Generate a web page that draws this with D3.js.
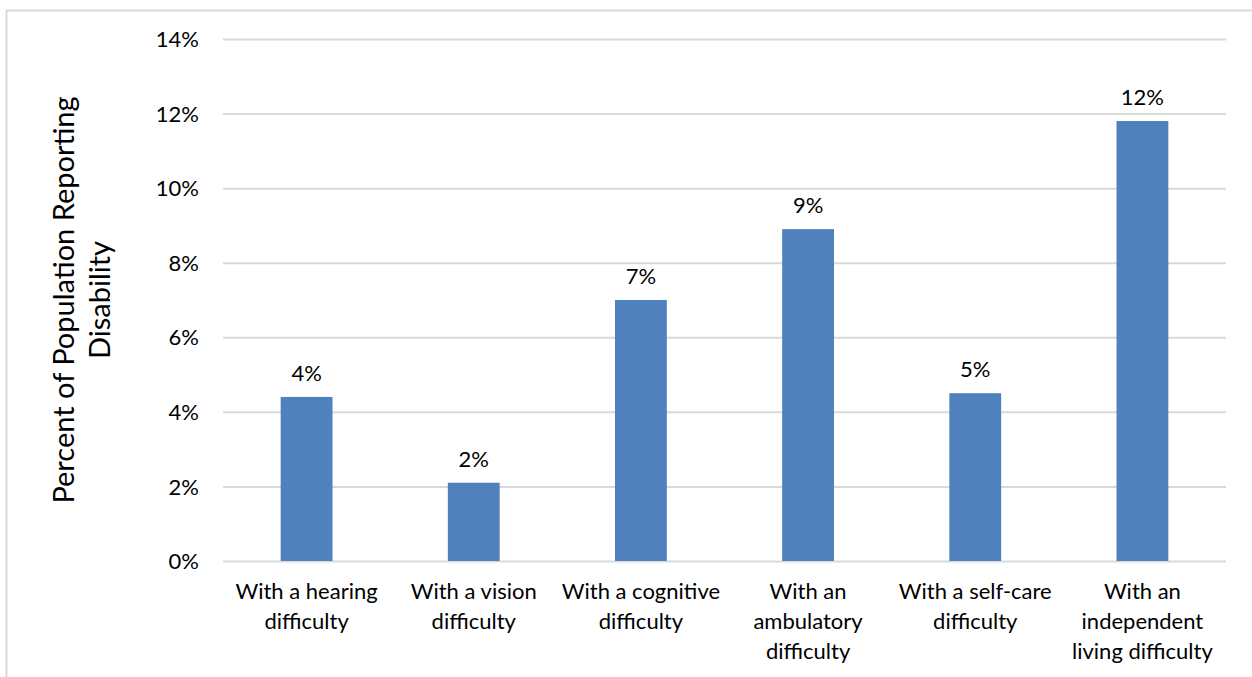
<!DOCTYPE html>
<html><head><meta charset="utf-8">
<script src="https://cdn.jsdelivr.net/npm/d3@7"></script>
<style>html,body{margin:0;padding:0;background:#fff;}svg{display:block;}</style>
</head><body>
<svg id="chart" width="1252" height="677"></svg>
<script>
const categories = [
  ["With a hearing", "difficulty"],
  ["With a vision", "difficulty"],
  ["With a cognitive", "difficulty"],
  ["With an", "ambulatory", "difficulty"],
  ["With a self-care", "difficulty"],
  ["With an", "independent", "living difficulty"]
];
const values = [4.4, 2.1, 7.0, 8.9, 4.5, 11.8];
const barLabels = ["4%", "2%", "7%", "9%", "5%", "12%"];
const yTicks = [0, 2, 4, 6, 8, 10, 12, 14];
const yTickLabels = ["0%", "2%", "4%", "6%", "8%", "10%", "12%", "14%"];
const yTitle = ["Percent of Population Reporting", "Disability"];

const FONT = "Lato, 'Open Sans', sans-serif";
const FS = 22;
const svg = d3.select("#chart");

// frame
svg.append("path")
  .attr("d", "M6.5,677 L6.5,10.5 L1252,10.5")
  .attr("fill", "none").attr("stroke", "#d9d9d9").attr("stroke-width", 2);

const pLeft = 223, pRight = 1226, pTop = 39, pBottom = 561;
const x = d3.scaleBand().domain(d3.range(categories.length)).range([pLeft, pRight]).paddingInner(0.69).paddingOuter(0.345);
const y = d3.scaleLinear().domain([0, 14]).range([pBottom, pTop]);

// gridlines
const yAxis = d3.axisLeft(y).tickValues(yTicks).tickSize(-(pRight - pLeft)).tickFormat((d, i) => yTickLabels[i]);
const gy = svg.append("g").attr("transform", `translate(${pLeft},0)`).call(yAxis);
gy.select(".domain").remove();
gy.selectAll(".tick line").attr("stroke", "#d9d9d9").attr("stroke-width", 2);
gy.selectAll(".tick text").attr("x", -24).attr("dy", "0.35em")
  .attr("font-family", FONT).attr("font-size", FS).attr("fill", "#000");

// bars
svg.append("g").selectAll("rect").data(values).join("rect")
  .attr("x", (d, i) => x(i)).attr("width", x.bandwidth())
  .attr("y", d => y(d)).attr("height", d => y(0) - y(d))
  .attr("fill", "#4f81bd");

// bar labels
svg.append("g").selectAll("text").data(values).join("text")
  .attr("x", (d, i) => x(i) + x.bandwidth() / 2)
  .attr("y", d => y(d) - 16)
  .attr("text-anchor", "middle")
  .attr("font-family", FONT).attr("font-size", FS).attr("fill", "#000")
  .text((d, i) => barLabels[i]);

// category labels
const gx = svg.append("g");
categories.forEach((lines, i) => {
  const t = gx.append("text")
    .attr("text-anchor", "middle")
    .attr("font-family", FONT).attr("font-size", FS).attr("fill", "#000");
  lines.forEach((l, j) => t.append("tspan").attr("x", x(i) + x.bandwidth() / 2).attr("y", 599 + j * 30).text(l));
});

// y title
const yt = svg.append("text")
  .attr("transform", "translate(64,300) rotate(-90)")
  .attr("text-anchor", "middle")
  .attr("font-family", FONT).attr("font-size", 29).attr("fill", "#000");
yTitle.forEach((l, j) => yt.append("tspan").attr("x", 0).attr("y", 10 + j * 36).text(l));
</script>
</body></html>
